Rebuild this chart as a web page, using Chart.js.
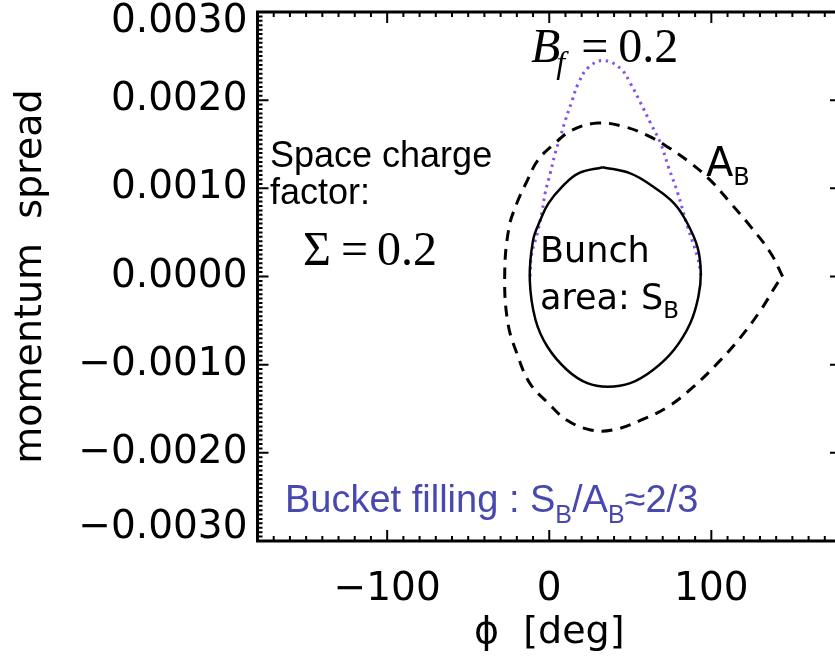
<!DOCTYPE html>
<html>
<head>
<meta charset="utf-8">
<script src="https://cdn.jsdelivr.net/npm/chart.js@4/dist/chart.umd.min.js"></script>
<style>
html, body { margin: 0; padding: 0; background: #fff; overflow: hidden; }
#wrap { width: 860px; height: 660px; }
</style>
</head>
<body>
<div id="wrap"><canvas id="chart" width="860" height="660"></canvas></div>
<script>
'use strict';

// axis ranges: phase in degrees, momentum spread dp/p
var X_MIN = -180, X_MAX = 180;
var Y_MIN = -0.003, Y_MAX = 0.003;
var xTicks = [-100, 0, 100];
var yTicks = [-0.003, -0.002, -0.001, 0, 0.001, 0.002, 0.003];

// bunch contour (solid), starting at the top, clockwise
var bunchPhi = [33, 50, 64, 77, 85, 91.5, 93.5, 92, 87, 77, 64, 50, 36, 23.5, 11, -1, -8.5, -12, -10, -5.5, -0.5, 8, 18, 33];
var bunchDp = [0.00124, 0.00117, 0.00102, 0.00083, 0.00061, 0.00033, 0.00004, -0.00023, -0.00053, -0.00083, -0.00106, -0.00121, -0.00125, -0.00121, -0.00106, -0.00080, -0.00049, -0.00004, 0.00041, 0.00064, 0.00083, 0.00102, 0.00117, 0.00124];

// bucket separatrix (dashed), starting and ending at the unstable fixed point
var bucketPhi = [144, 136.5, 124.5, 112, 99.5, 87, 73, 60.5, 46, 30, 14, 3.5, -7, -13.5, -20, -25, -27.5, -25.5, -20, -12, -1, 11, 25.5, 39.5, 56.5, 73, 89, 104, 118, 130.5, 141, 144];
var bucketDp = [0, 0.00027, 0.00056, 0.00083, 0.00109, 0.00129, 0.00147, 0.00160, 0.00170, 0.00174, 0.00166, 0.00151, 0.00132, 0.00109, 0.00083, 0.00054, 0, -0.00053, -0.00087, -0.00121, -0.00143, -0.00163, -0.00174, -0.00174, -0.00163, -0.00148, -0.00125, -0.00098, -0.00069, -0.00038, -0.00007, 0];

// bucket filling profile (dotted)
var fillPhi = [-11.8, -11, -7.4, -4.3, -2.5, 0.6, 3.7, 6.8, 9.9, 14.2, 17.9, 24.1, 33.4, 43.9, 50.1, 56.3, 62.5, 68.7, 73.6, 79.2, 85.4, 91.5, 93.4, 93.4];
var fillDp = [0, 0.00024, 0.00049, 0.00075, 0.00095, 0.00117, 0.00140, 0.00158, 0.00177, 0.00200, 0.00219, 0.00237, 0.00245, 0.00236, 0.00219, 0.00197, 0.00174, 0.00151, 0.00124, 0.00095, 0.00056, 0.00022, 0.00004, 0];

function toPoints(xs, ys) {
  return xs.map(function (x, i) { return { x: x, y: ys[i] }; });
}

function fmtDp(v) {
  var s = Math.abs(v).toFixed(4);
  return v < 0 ? '\u2212' + s : s;
}

// draw a run of text pieces (for subscripts), left to right
function runText(ctx, x, y, pieces) {
  pieces.forEach(function (p) {
    ctx.font = p.font;
    ctx.fillText(p.text, x, y + (p.dy || 0));
    x += ctx.measureText(p.text).width + (p.gap || 0);
  });
}

var SANS = '"DejaVu Sans", sans-serif';
var ARIAL = '"Liberation Sans", Arial, sans-serif';
var SERIF = '"Liberation Serif", "Times New Roman", serif';

var framePlugin = {
  id: 'frame',
  afterDatasetsDraw: function (chart) {
    var ctx = chart.ctx, a = chart.chartArea;
    var xs = chart.scales.x, ys = chart.scales.y;
    ctx.save();
    ctx.strokeStyle = '#000';
    ctx.fillStyle = '#000';
    ctx.lineWidth = 3;
    ctx.strokeRect(a.left, a.top, a.right - a.left, a.bottom - a.top);

    // inward ticks on all four sides
    ctx.lineWidth = 2;
    ctx.beginPath();
    var v, px, py, len, i;
    for (v = X_MIN; v <= X_MAX; v += 10) {
      px = xs.getPixelForValue(v);
      len = xTicks.indexOf(v) >= 0 ? 11 : 5;
      ctx.moveTo(px, a.bottom); ctx.lineTo(px, a.bottom - len);
      ctx.moveTo(px, a.top); ctx.lineTo(px, a.top + len);
    }
    for (i = 0; i <= 120; i++) {
      py = ys.getPixelForValue(Y_MIN + i * 0.00005);
      len = i % 20 === 0 ? 11 : 5;
      ctx.moveTo(a.left, py); ctx.lineTo(a.left + len, py);
      ctx.moveTo(a.right, py); ctx.lineTo(a.right - len, py);
    }
    ctx.stroke();

    // tick labels
    ctx.font = '39px ' + SANS;
    ctx.textAlign = 'right';
    ctx.textBaseline = 'middle';
    yTicks.forEach(function (t) {
      var y = Math.min(Math.max(ys.getPixelForValue(t), a.top + 10), a.bottom - 13);
      ctx.fillText(fmtDp(t), a.left - 10, y);
    });
    ctx.textAlign = 'center';
    xTicks.forEach(function (t) {
      ctx.fillText(t < 0 ? '\u2212' + Math.abs(t) : String(t), xs.getPixelForValue(t), 590);
    });

    // axis titles
    ctx.font = '38px ' + SANS;
    ctx.fillText('\u03d5  [deg]', xs.getPixelForValue(0), 633);
    ctx.save();
    ctx.translate(31, (a.top + a.bottom) / 2);
    ctx.rotate(-Math.PI / 2);
    ctx.fillText('momentum  spread', 0, 0);
    ctx.restore();

    // annotations
    ctx.textAlign = 'left';
    ctx.textBaseline = 'alphabetic';
    ctx.font = '36px ' + ARIAL;
    ctx.fillText('Space charge', 270, 167);
    ctx.fillText('factor:', 270, 204);
    runText(ctx, 303, 265, [
      { text: '\u03a3', font: '48px ' + SERIF, gap: 10 },
      { text: '=', font: '48px ' + SERIF, gap: 9 },
      { text: '0.2', font: '48px ' + SERIF }
    ]);
    runText(ctx, 531, 62, [
      { text: 'B', font: 'italic 48px ' + SERIF, gap: -4 },
      { text: 'f', font: 'italic 32px ' + SERIF, dy: 11, gap: 16 },
      { text: '=', font: '48px ' + SERIF, gap: 10 },
      { text: '0.2', font: '48px ' + SERIF }
    ]);
    runText(ctx, 706, 176, [
      { text: 'A', font: '40px ' + SANS },
      { text: 'B', font: '24px ' + SANS, dy: 9 }
    ]);
    ctx.font = '35px ' + SANS;
    ctx.fillText('Bunch', 540, 262);
    runText(ctx, 540, 309, [
      { text: 'area: S', font: '35px ' + SANS },
      { text: 'B', font: '23px ' + SANS, dy: 9 }
    ]);
    ctx.fillStyle = '#4848b0';
    runText(ctx, 285, 512, [
      { text: 'Bucket filling : S', font: '38px ' + ARIAL },
      { text: 'B', font: '25px ' + ARIAL, dy: 11 },
      { text: '/A', font: '38px ' + ARIAL },
      { text: 'B', font: '25px ' + ARIAL, dy: 11 },
      { text: '\u22482/3', font: '38px ' + ARIAL }
    ]);
    ctx.restore();
  }
};

var ctx = document.getElementById('chart').getContext('2d');
var chart = new Chart(ctx, {
  type: 'scatter',
  plugins: [framePlugin],
  data: {
    datasets: [
      {
        label: 'bucket',
        data: toPoints(bucketPhi, bucketDp),
        showLine: true,
        borderColor: '#000',
        borderWidth: 3,
        borderDash: [11, 8],
        tension: 0.4,
        pointRadius: 0,
      },
      {
        label: 'bunch',
        data: toPoints(bunchPhi, bunchDp),
        showLine: true,
        borderColor: '#000',
        borderWidth: 2.5,
        tension: 0.4,
        pointRadius: 0,
      },
      {
        label: 'filling',
        data: toPoints(fillPhi, fillDp),
        showLine: true,
        borderColor: 'rgb(135, 80, 235)',
        borderWidth: 3,
        borderDash: [2.5, 4.5],
        tension: 0.4,
        pointRadius: 0,
      },
    ],
  },
  options: {
    responsive: false,
    animation: false,
    layout: {
      padding: { left: 257.5, top: 12, right: 19, bottom: 119 },
    },
    scales: {
      x: { type: 'linear', min: X_MIN, max: X_MAX, display: false },
      y: { type: 'linear', min: Y_MIN, max: Y_MAX, display: false },
    },
    plugins: {
      legend: { display: false },
      tooltip: { enabled: false },
    },
  },
});
</script>
</body>
</html>
